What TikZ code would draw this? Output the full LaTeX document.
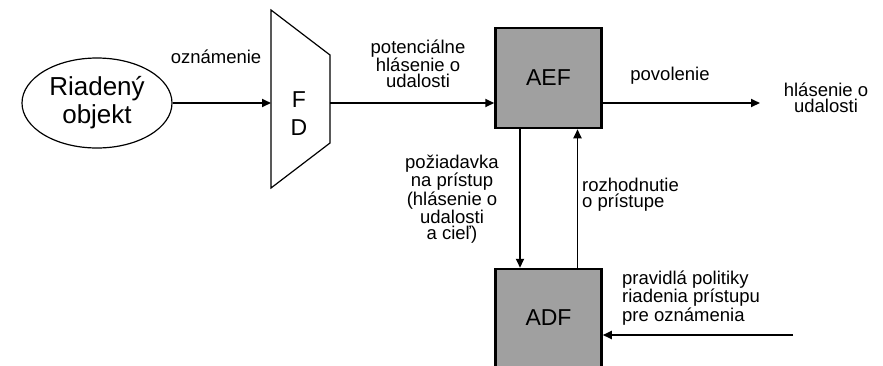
\documentclass[tikz,border=0pt]{standalone}
\usepackage{fontspec}
\setmainfont{Liberation Sans}
\usetikzlibrary{shapes.geometric,arrows.meta}
\definecolor{boxgray}{HTML}{A0A0A0}
\begin{document}
\begin{tikzpicture}[x=1pt,y=-1pt,
  arr/.style={line width=1.8pt,-{Triangle[length=9pt,width=8pt]}},
  outline/.style={draw,line width=1.2pt},
  block/.style={draw,line width=2.5pt,fill=boxgray,minimum width=106pt,inner sep=0pt,
    font=\fontsize{23}{27}\selectfont},
  lbl/.style={inner sep=0pt,font=\fontsize{18.5}{16}\selectfont}]
\useasboundingbox (0,0) rectangle (883,365);
\clip (0,0) rectangle (883,365);

% managed object
\node[ellipse,outline,minimum width=150pt,minimum height=90pt,inner sep=0pt,align=center,
  font=\fontsize{26}{28}\selectfont] (obj) at (97,103) {Riadený\\objekt};

% filter FD (trapezoid)
\draw[line width=1.2pt] (271,10) -- (330,55) -- (330,143) -- (271,188) -- cycle;
\node[inner sep=0pt,align=center,font=\fontsize{23}{28}\selectfont] (fd) at (299,114) {F\\D};
\coordinate (fdin) at (271,103);
\coordinate (fdout) at (330,103);

% function blocks
\node[block,minimum height=100pt] (aef) at (548.5,78) {AEF};
\node[block,minimum height=98pt] (adf) at (548.5,318) {ADF};

% free ends
\coordinate (outend) at (760,103);
\coordinate (polin) at (793,335);

% connectors
\draw[arr] (obj.east) -- (fdin);
\draw[arr] (fdout) -- (aef.west |- fdout);
\draw[arr] (aef.east |- fdout) -- (outend);
\draw[arr] ([xshift=-28.5pt]aef.south) -- ([xshift=-28.5pt]adf.north);
\draw[arr] ([xshift=29pt]adf.north) -- ([xshift=29pt]aef.south);
\draw[arr] (polin) -- (adf.east |- polin);

% labels
\node[lbl,anchor=base] (lozn) at (216,63) {oznámenie};
\node[lbl,align=center] (lpot) at (418,64) {potenciálne\\hlásenie o\\udalosti};
\node[lbl,anchor=base] (lpov) at (670,80) {povolenie};
\node[lbl,align=center] (lout) at (826,98) {hlásenie o\\udalosti};
\node[lbl,align=center] (lreq) at (452,199) {požiadavka\\na prístup\\(hlásenie o\\udalosti\\a cieľ)};
\node[lbl,align=left,anchor=west] (ldec) at (582,195) {rozhodnutie\\o prístupe};
\node[lbl,align=left,anchor=west] (lpol) at (622,298) {pravidlá politiky\\riadenia prístupu\\pre oznámenia};
\end{tikzpicture}
\end{document}
